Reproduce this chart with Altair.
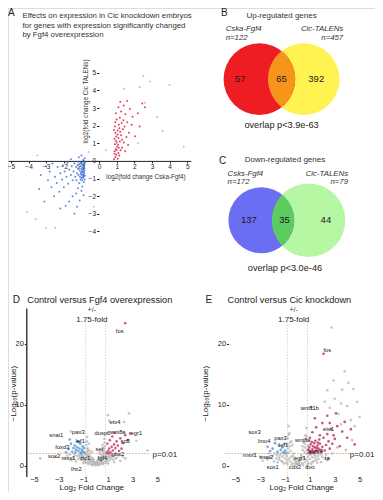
import altair as alt
import pandas as pd

FONT = "Liberation Sans"

# ---------------- data ----------------
# Panel A: log2 fold change (Fgf4 overexpression) vs log2 fold change (Cic TALENs)
a_up = [(0.85,0.10),(0.92,0.22),(0.98,0.35),(1.05,0.12),(1.10,0.45),(0.88,0.55),(0.95,0.68),(1.02,0.80),(1.15,0.30),(1.22,0.60),
        (0.90,0.95),(1.00,1.05),(1.08,0.92),(1.18,1.10),(1.30,0.75),(0.87,1.25),(0.97,1.38),(1.10,1.30),(1.25,1.45),(1.40,1.05),
        (0.93,1.60),(1.05,1.72),(1.20,1.65),(1.35,1.80),(1.55,1.35),(0.90,1.95),(1.12,2.05),(1.28,2.15),(1.45,1.95),(1.70,1.60),
        (1.00,2.35),(1.18,2.45),(1.38,2.30),(1.60,2.20),(1.85,2.05),(0.95,2.70),(1.25,2.80),(1.50,2.65),(1.90,2.50),(1.10,3.05),
        (1.40,3.15),(1.75,2.95),(2.20,2.70),(1.20,3.35),(1.60,3.40),(2.45,3.25),(2.60,3.05),(0.88,0.40),(1.00,0.60),(1.12,0.75),
        (0.95,1.15),(1.05,1.50),(1.15,1.85),(0.85,1.75),(1.30,1.20),(1.48,0.55),(2.05,1.40),(2.30,1.95),(1.65,0.90),(0.92,2.20)]
a_down = [(-0.82,0.15),(-0.88,-0.05),(-0.95,-0.20),(-0.85,-0.35),(-0.92,-0.50),(-1.00,-0.10),(-1.05,-0.30),(-1.10,-0.55),(-0.84,-0.70),(-0.98,-0.80),
          (-1.15,-0.20),(-1.20,-0.45),(-1.25,-0.70),(-0.90,-0.95),(-1.05,-1.05),(-1.30,-0.35),(-1.35,-0.90),(-1.40,-0.15),(-0.86,-1.20),(-1.12,-1.25),
          (-1.45,-0.60),(-1.50,-1.10),(-1.55,-0.30),(-1.60,-0.80),(-0.95,-1.45),(-1.20,-1.55),(-1.70,-0.50),(-1.75,-1.30),(-1.80,-0.10),(-1.85,-0.90),
          (-1.00,-1.70),(-1.30,-1.85),(-1.95,-0.60),(-2.00,-1.50),(-2.05,-0.25),(-2.10,-1.05),(-0.88,-1.95),(-1.50,-2.00),(-2.20,-0.70),(-2.25,-1.75),
          (-2.35,-0.35),(-2.40,-1.25),(-1.10,-2.25),(-1.70,-2.30),(-2.50,-0.90),(-2.55,-2.00),(-2.65,-0.15),(-2.70,-1.50),(-1.25,-2.60),(-1.90,-2.55),
          (-2.80,-0.60),(-2.90,-1.10),(-3.00,-0.30),(-3.10,-2.30),(-2.20,-2.70),(-1.40,-3.00),(-3.30,-0.80),(-3.40,-1.60),(-0.92,-0.25),(-0.83,-0.55),
          (-1.02,-0.65),(-0.87,-0.85),(-1.08,-0.90),(-0.96,-1.10),(-1.18,-0.05),(-1.28,-1.10),(-0.90,0.05),(-1.00,0.30),(-1.15,0.20),(-1.60,0.10),
          (-0.81,-0.10),(-0.83,-0.25),(-0.85,-0.45),(-0.87,-0.62),(-0.89,-0.78),(-0.91,-0.92),(-0.82,-1.05),(-0.84,-0.15),(-0.93,-0.38),(-0.97,-0.58),
          (-1.01,-0.45),(-1.04,-0.75),(-0.99,-0.95),(-1.07,-0.15),(-1.13,-0.40),(-1.17,-0.80),(-0.86,0.00),(-0.94,-0.68),(-0.81,-0.85),(-1.22,-0.25)]
a_other = [(2.5,4.8),(2.9,4.5),(4.0,4.3),(1.4,4.1),(2.3,4.2),(3.3,2.5),(2.6,3.3),(4.8,0.8),(-3.5,0.3),(-3.0,-3.8),
           (-2.5,-3.8),(-4.1,-2.9),(-3.6,-3.3),(0.4,0.6),(-0.6,0.5),(2.2,1.0),(3.6,1.7),(-0.3,-2.6)]
a_xticks = [-5, -4, -3, -2, -1, 0, 1, 2, 3, 4, 5]
a_yticks = [-4, -3, -2, -1, 0, 1, 2, 3, 4, 5]

# Panel B / C: Venn counts
venn_up_sets = ["Cska-Fgf4", "Cic-TALENs"]
venn_up_n = [122, 457]
venn_up_counts = [57, 65, 392]
venn_down_sets = ["Csks-Fgf4", "Cic-TALENs"]
venn_down_n = [172, 79]
venn_down_counts = [137, 35, 44]

# Panel D: volcano, control vs Fgf4 overexpression (log2 FC, -log10 p)
d_ns = [(0.0,0.05),(0.1,0.15),(-0.1,0.2),(0.2,0.3),(-0.2,0.35),(0.3,0.5),(-0.3,0.55),(0.4,0.7),(-0.4,0.75),(0.5,0.9),
        (-0.5,0.95),(0.6,1.1),(-0.6,1.15),(0.7,1.3),(-0.7,1.35),(0.75,1.6),(-0.75,1.65),(0.35,0.2),(-0.35,0.15),(0.55,0.35),
        (-0.55,0.4),(0.65,0.6),(-0.65,0.65),(0.8,0.8),(-0.8,0.85),(0.9,1.0),(-0.9,1.05),(1.0,1.2),(-1.0,1.3),(1.1,1.45),
        (-1.1,1.5),(1.2,1.7),(-1.2,1.75),(1.3,1.9),(-1.3,1.95),(0.85,1.8),(-0.85,1.9),(0.45,1.4),(-0.45,1.45),(0.6,1.75),
        (-0.6,1.8),(0.7,2.1),(-0.7,2.2),(0.5,2.4),(-0.5,2.5),(0.65,2.8),(-0.65,2.9),(0.75,3.2),(-0.75,3.4),(0.2,0.9),
        (-0.2,1.0),(0.1,0.6),(-0.1,0.65),(1.4,1.0),(-1.4,1.1),(1.5,0.6),(-1.6,0.7),(1.7,1.3),(-1.8,1.4),(-2.0,0.9),
        (2.0,0.8),(-2.3,1.6),(2.2,1.5),(-1.5,1.6),(1.6,1.85),(0.3,1.2),(-0.3,1.3),(0.72,3.8),(-0.72,4.0),(2.3,7.2),
        (1.1,7.4),(2.7,8.6),(-2.0,5.6),(3.3,4.1),(-3.3,1.4),(-4.5,1.2),(4.2,2.5),(1.0,8.3),
        (0.05,0.3),(-0.05,0.45),(0.15,0.75),(-0.15,0.8),(0.25,1.05),(-0.25,1.1),(0.35,1.0),(-0.35,1.05),(0.45,0.55),(-0.45,0.6),
        (0.55,1.55),(-0.55,1.6),(0.62,2.3),(-0.62,2.4),(0.68,2.6),(-0.68,2.7),(0.4,1.9),(-0.4,2.0),(0.3,2.2),(-0.3,2.3),
        (0.95,0.7),(-0.95,0.75),(1.05,1.6),(-1.05,1.65),(1.15,0.9),(-1.15,0.95),(1.25,1.25),(-1.25,1.3),(1.35,1.55),(-1.35,1.6),
        (0.25,0.1),(-0.25,0.1),(0.6,0.25),(-0.6,0.3),(0.8,0.45),(-0.8,0.5),(1.0,0.35),(-1.0,0.4),(1.6,1.2),(-1.7,1.8),
        (-1.9,1.1),(-2.1,1.9),(-2.5,1.2),(1.9,1.7),(2.4,1.2),(0.55,3.4),(-0.55,3.6),(0.7,4.4),(-0.7,4.7)]
d_down = [(-0.9,2.1),(-1.0,2.3),(-1.1,2.6),(-1.2,2.2),(-1.3,2.8),(-1.4,2.4),(-1.5,3.0),(-1.6,2.6),(-1.7,3.3),(-1.8,2.9),
          (-1.9,2.3),(-2.0,3.6),(-2.2,2.7),(-1.05,3.2),(-1.25,3.6),(-1.45,4.0),(-0.95,2.9),(-1.15,2.05),(-1.65,2.15),(-2.1,4.3),
          (-2.4,2.2),(-1.35,3.9)]
d_up = [(0.9,2.1),(1.0,2.4),(1.1,2.8),(1.2,2.2),(1.3,3.1),(1.4,2.5),(1.5,3.5),(1.6,2.9),(1.7,4.0),(1.8,3.3),
        (1.9,2.4),(2.0,4.5),(2.2,3.7),(2.4,5.0),(2.6,4.2),(2.8,5.3),(0.95,3.6),(1.15,4.2),(1.35,4.8),(1.55,5.4),
        (1.05,2.0),(2.1,2.8),(2.4,23.4)]
d_genes = ["fos", "etv4", "dusp6", "wnt8a", "egr1", "sp5", "pax3", "snai1", "foxd3", "lef1", "sox2", "msx1",
           "zic1", "lhx2", "fgf4", "sef", "gbx2"]
d_gene_x = [1.95, 1.56, 0.55, 1.8, 3.3, 2.4, -1.4, -3.2, -2.7, -1.25, -3.36, -2.2, -0.86, -1.56, 0.55, 0.3, 1.8]
d_gene_y = [22.2, 7.2, 5.4, 5.6, 5.3, 4.0, 5.6, 5.0, 3.0, 4.0, 1.6, 1.3, 1.3, -0.6, 1.3, 2.7, 1.9]

# Panel E: volcano, control vs Cic knockdown
e_ns = [(0.0,0.1),(0.2,0.2),(-0.2,0.25),(0.4,0.4),(-0.4,0.45),(0.6,0.6),(-0.6,0.7),(0.8,0.85),(-0.8,0.95),(1.0,1.1),
        (-1.0,1.2),(1.2,1.4),(-1.2,1.5),(1.4,1.7),(-1.4,1.8),(1.6,2.0),(-1.6,2.1),(0.3,0.9),(-0.3,1.0),(0.5,1.4),
        (-0.5,1.5),(0.7,2.0),(-0.7,2.1),(0.75,2.6),(-0.75,2.8),(0.8,3.3),(-0.8,3.5),(0.78,4.2),(-0.78,4.5),(0.1,0.5),
        (-0.1,0.6),(0.9,0.4),(-0.9,0.5),(1.3,0.7),(-1.3,0.8),(1.7,1.1),(-1.7,1.2),(2.0,1.5),(-2.0,1.6),(2.3,1.8),
        (-2.3,2.0),(1.9,0.6),(-1.9,0.7),(2.5,1.2),(-2.6,1.3),(0.6,3.0),(-0.6,3.2),(0.5,3.8),(-0.5,4.0),(0.65,5.0),
        (-0.65,5.3),(0.72,6.2),(-0.72,6.5),(1.1,0.3),(-1.1,0.35),(0.45,0.1),(-0.45,0.15),(1.5,0.9),(-1.5,1.0),(2.8,2.0),
        (2.6,9.5),(3.0,11.0),(3.6,12.5),(4.5,12.6),(3.3,8.5),(4.0,9.8),(4.8,10.5),(2.9,14.0),(3.8,15.5),(4.3,7.5),
        (5.0,8.0),(2.75,22.7),(4.6,6.5),(3.5,6.8),(-3.0,1.5),(-3.5,1.9),(-2.8,0.8),(0.3,1.8),(-0.3,2.0),(0.4,2.6),
        (0.05,0.3),(-0.05,0.35),(0.15,0.7),(-0.15,0.75),(0.25,1.2),(-0.25,1.3),(0.35,1.5),(-0.35,1.6),(0.55,2.3),(-0.55,2.4),
        (0.65,1.1),(-0.65,1.2),(0.85,1.5),(-0.85,1.6),(1.05,1.8),(-1.05,1.9),(1.25,2.0),(-1.25,2.1),(1.45,1.3),(-1.45,1.4),
        (1.65,1.6),(-1.65,1.7),(1.85,1.9),(-1.85,2.0),(2.2,1.2),(-2.2,1.3),(2.4,0.9),(-2.4,1.0),(0.7,4.8),(-0.7,5.1),
        (0.6,3.6),(-0.6,3.8),(0.4,3.2),(-0.4,3.4),(1.2,0.6),(-1.2,0.65),(0.8,0.2),(-0.8,0.25),(1.6,0.5),(-1.6,0.55),
        (3.2,3.0),(3.9,2.6),(4.4,4.2),(2.2,10.5),(3.5,10.2),(4.1,13.6),(2.4,12.4)]
e_up = [(0.9,2.1),(1.0,2.4),(1.1,2.2),(1.2,2.7),(1.3,2.3),(1.4,3.0),(1.5,2.5),(1.6,3.3),(1.7,2.8),(1.8,3.6),
        (1.9,2.2),(2.0,3.1),(0.95,3.0),(1.05,3.5),(1.15,3.9),(1.25,3.2),(1.35,3.7),(1.45,4.1),(1.55,2.9),(1.65,3.8),
        (1.75,4.3),(1.85,2.6),(2.1,4.6),(2.2,2.5),(2.3,3.4),(2.4,5.2),(2.5,4.0),(2.6,2.8),(2.7,6.0),(2.8,3.6),
        (2.9,5.0),(3.0,4.4),(3.2,6.5),(3.4,3.2),(3.6,5.6),(3.8,7.2),(4.0,4.6),(4.3,6.0),(4.6,3.5),(1.0,4.6),
        (1.2,5.5),(1.5,6.3),(1.8,5.0),(2.0,7.0),(2.4,8.2),(2.6,7.0),(3.1,8.6),(1.4,7.8),(2.1,18.4),(1.1,9.6),
        (0.88,2.6),(1.02,2.05),(1.38,2.1),(1.62,2.35)]
e_down = [(-0.9,2.1),(-1.0,2.5),(-1.1,2.2),(-1.2,3.0),(-1.35,2.6),(-1.5,3.3),(-1.6,2.3),(-1.8,3.7),(-2.0,2.8),(-2.2,2.4),
          (-1.05,3.6),(-2.4,3.1)]
e_genes = ["fos", "wnt11b", "etv1", "wnt8a", "spry4", "sox3", "lmo4", "pax3", "lef1", "msx1", "snai2", "sox1",
           "cdx2", "tbxt", "egr1", "ta"]
e_gene_x = [2.4, 1.0, 2.5, 0.43, 1.5, -3.45, -2.67, -1.36, -1.12, -3.84, -2.5, -2.0, -0.2, 1.0, 0.2, 2.4]
e_gene_y = [19.0, 9.4, 6.1, 4.3, 2.4, 5.6, 4.0, 4.6, 3.4, 1.8, 1.4, -0.2, -0.2, -0.2, 1.3, 1.3]

vol_xticks = [-5, -3, -1, 1, 3, 5]
vol_yticks = [0, 10, 20]
fold_cut = 0.807   # log2(1.75)
p_cut = 2.0        # -log10(0.01)

# ---------------- layout helpers (reference pixel -> chart pixel) ----------------
W, H = 367, 484
SX, SY = W / 381.0, H / 497.0
S = (SX + SY) / 2


def px(x):
    return (x - 2) * SX


def py(y):
    return (y - 2) * SY


def lin(d0, d1, r0, r1):
    return alt.Scale(domain=[d0, d1], range=[r0, r1], nice=False, zero=False)


def text(s, x, y, size=8, align="left", baseline="middle", angle=0, color="#222",
         style="normal", weight="normal"):
    return alt.Chart(pd.DataFrame({"t": [s]})).mark_text(
        align=align, baseline=baseline, fontSize=size, angle=angle, color=color,
        fontStyle=style, fontWeight=weight, font=FONT
    ).encode(x=alt.value(px(x)), y=alt.value(py(y)), text="t:N")


def scatter(pairs, xs, ys, color, size, opacity=1.0, xaxis=None, yaxis=None):
    df = pd.DataFrame(pairs, columns=["x", "y"])
    return alt.Chart(df).mark_circle(size=size, color=color, opacity=opacity).encode(
        x=alt.X("x:Q", scale=xs, axis=xaxis), y=alt.Y("y:Q", scale=ys, axis=yaxis))


ax = dict(labelFont=FONT, labelColor="#222", grid=False, title=None, labelFlush=False,
          labelOverlap=False, tickColor="#222", domainColor="#222")

layers = []

# ---------------- Panel A ----------------
A_X = lin(-5.15, 5.2, px(2.3), px(191.7))
A_Y = lin(-4.3, 5.3, py(236.8), py(63.1))
a_xaxis = alt.Axis(orient="bottom", offset=py(159) - H, values=a_xticks, tickSize=2,
                   labelFontSize=6.5, labelPadding=1, domainWidth=1, **ax)
a_yaxis = alt.Axis(orient="left", offset=-px(96.5), values=a_yticks, domain=False, tickSize=2.5,
                   labelFontSize=6.5, labelPadding=1, **ax)
layers.append(scatter(a_other, A_X, A_Y, "#b8b8c4", 4, 0.9, a_xaxis, a_yaxis))
layers.append(scatter(a_down, A_X, A_Y, "#2a63d4", 4, 0.75))
layers.append(scatter(a_up, A_X, A_Y, "#d8244c", 4, 0.85))
layers += [
    text("A", 2, 2.5, size=10, baseline="top"),
    text("Effects on expression in Cic knockdown embryos", 17, 10, size=7.8, color="#333"),
    text("for genes with expression significantly changed", 17, 20, size=7.8, color="#333"),
    text("by Fgf4 overexpression", 17, 29.5, size=7.8, color="#333"),
    text("log2(fold change Cic TALENs)", 83, 98, size=6.3, align="center", angle=270, color="#333"),
    text("log2(fold change Cska-Fgf4)", 104, 176, size=6.3, color="#333"),
]

# ---------------- Venn helper ----------------
def lens_path(r1, r2, d):
    x0 = (d * d + r1 * r1 - r2 * r2) / (2 * d)
    h = (r1 * r1 - x0 * x0) ** 0.5
    a, b = r1 / h, r2 / h
    return (f"M0,-1A{a:.4f},{a:.4f} 0 0,1 0,1A{b:.4f},{b:.4f} 0 0,1 0,-1Z", x0, h)


def venn(sets, ns, counts, cx0, cy, r1, r2, d, colors, title, ttl_y, name_y, ov_text, ov_y,
         count_dx, letter, letter_xy):
    vx = lin(0, 1, px(cx0), px(cx0 + d))
    vy = lin(0, 1, py(cy), py(cy - d))
    circ = pd.DataFrame({"set": sets, "n": ns, "pos": [0.0, 1.0], "row": [0.0, 0.0]})
    out = []
    out.append(alt.Chart(circ.iloc[[1]]).mark_point(shape="circle", filled=True, opacity=1,
                                                    size=(2 * r2 * S) ** 2, color=colors[1], strokeWidth=0)
               .encode(x=alt.X("pos:Q", scale=vx, axis=None), y=alt.Y("row:Q", scale=vy, axis=None)))
    out.append(alt.Chart(circ.iloc[[0]]).mark_point(shape="circle", filled=True, opacity=1,
                                                    size=(2 * r1 * S) ** 2, color=colors[0], strokeWidth=0)
               .encode(x=alt.X("pos:Q", scale=vx, axis=None), y=alt.Y("row:Q", scale=vy, axis=None)))
    path, x0, h = lens_path(r1, r2, d)
    lens = pd.DataFrame({"pos": [x0 / d], "row": [0.0]})
    out.append(alt.Chart(lens).mark_point(shape=path, filled=True, opacity=1,
                                          size=(2 * h * S) ** 2, color=colors[2], strokeWidth=0)
               .encode(x=alt.X("pos:Q", scale=vx, axis=None), y=alt.Y("row:Q", scale=vy, axis=None)))
    cnt = pd.DataFrame({"c": [str(c) for c in counts],
                        "pos": [count_dx[0] / d, count_dx[1] / d, count_dx[2] / d], "row": [0.0] * 3})
    out.append(alt.Chart(cnt).mark_text(fontSize=9.5, font=FONT, color="#1a1a1a")
               .encode(x=alt.X("pos:Q", scale=vx, axis=None), y=alt.Y("row:Q", scale=vy, axis=None),
                       text="c:N"))
    out += [
        text(letter, letter_xy[0], letter_xy[1], size=10, baseline="top"),
        text(title, cx0 + d / 2, ttl_y, size=8, align="center", color="#333"),
        text(sets[0], cx0 - 35, name_y, size=7.8, style="italic", color="#333"),
        text(f"n={ns[0]}", cx0 - 35, name_y + 9, size=7.8, style="italic", color="#333"),
        text(sets[1], cx0 + d + 41, name_y, size=7.8, align="right", style="italic", color="#333"),
        text(f"n={ns[1]}", cx0 + d + 41, name_y + 9, size=7.8, align="right", style="italic", color="#333"),
        text(ov_text, cx0 + d / 2, ov_y, size=9.2, align="center", color="#222"),
    ]
    return out


layers += venn(venn_up_sets, venn_up_n, venn_up_counts, 263, 75, 37, 37, 46,
               ["#ee1d23", "#fff352", "#f7941d"], "Up-regulated genes", 10, 24,
               "overlap p<3.9e-63", 122, [-20, 23, 59], "B", (223, 2.5))
layers += venn(venn_down_sets, venn_down_n, venn_down_counts, 265, 220, 34, 38, 49,
               ["#6b6df2", "#b6f7a4", "#5ccb60"], "Down-regulated genes", 158, 172,
               "overlap p<3.0e-46", 269, [-13, 24, 67], "C", (221, 154))

# ---------------- Volcano helper ----------------
def volcano(ns, down, up, genes, gx, gy, zero_x, unit_x, axis_x, domain_line, hline_from, hline_to,
            letter, letter_x, title, title_x, ytitle_x, xtitle_x, pcol, p_x, p_align):
    vx = lin(-5, 5, px(zero_x - 5 * unit_x), px(zero_x + 5 * unit_x))
    vy = lin(-1.76, 25.92, py(483), py(310))
    xaxis = alt.Axis(orient="bottom", offset=py(481.5) - H, values=vol_xticks, domain=False, ticks=False,
                     labelFontSize=7.5, labelPadding=0.5, **ax)
    yaxis = alt.Axis(orient="left", offset=-px(axis_x), values=vol_yticks, domain=domain_line,
                     domainWidth=1.3, tickSize=2, labelFontSize=7.5, labelPadding=1, **ax)
    out = []
    # threshold lines
    vl = pd.DataFrame({"x": [-fold_cut, fold_cut], "y1": [-1.7, -1.7], "y2": [23.6, 23.6]})
    out.append(alt.Chart(vl).mark_rule(color="#e2c9a0", strokeWidth=0.8, strokeDash=[1.5, 1.5])
               .encode(x=alt.X("x:Q", scale=vx, axis=None), y=alt.Y("y1:Q", scale=vy, axis=None), y2="y2:Q"))
    hl = pd.DataFrame({"x1": [hline_from], "x2": [hline_to], "y": [p_cut]})
    out.append(alt.Chart(hl).mark_rule(color="#d9a46c", strokeWidth=0.9, strokeDash=[1.5, 1.5])
               .encode(x=alt.X("x1:Q", scale=vx, axis=None), x2="x2:Q", y=alt.Y("y:Q", scale=vy, axis=None)))
    out.append(scatter(ns, vx, vy, "#b4b4b4", 7, 0.75, xaxis, yaxis))
    out.append(scatter(down, vx, vy, "#5b9bd8", 7, 0.85))
    out.append(scatter(up, vx, vy, pcol, 7, 0.8))
    gdf = pd.DataFrame({"g": genes, "x": gx, "y": gy})
    out.append(alt.Chart(gdf).mark_text(fontSize=5.8, font=FONT, color="#111")
               .encode(x=alt.X("x:Q", scale=vx, axis=None), y=alt.Y("y:Q", scale=vy, axis=None), text="g:N"))
    cx = zero_x - 4
    out += [
        text(letter, letter_x, 302, size=10),
        text(title, title_x, 302, size=9.2, color="#222"),
        text("+/-", cx, 312, size=7, align="center", color="#333"),
        text("1.75-fold", cx, 322, size=8, align="center", color="#222"),
        text("p=0.01", p_x, 461, size=8, align=p_align, color="#222"),
        text("\u2212Log\u2081\u2080(p-value)", ytitle_x, 398, size=8, align="center", angle=270, color="#222"),
        text("Log\u2082 Fold Change", xtitle_x, 495, size=8, align="center", color="#222"),
    ]
    return out


layers += volcano(d_ns, d_down, d_up, d_genes, d_gene_x, d_gene_y, 93, 12.8, 21, True, -5.55, 4.45,
                  "D", 7, "Control versus Fgf4 overexpression", 22, 8, 89, "#c8325e", 152, "left")
layers += volcano(e_ns, e_down, e_up, e_genes, e_gene_x, e_gene_y, 302.5, 12.9, 231, False, -5.8, 4.6,
                  "E", 207, "Control versus Cic knockdown", 230, 208, 307, "#b82a5c", 382.5, "right")

chart = alt.layer(*layers).resolve_scale(x="independent", y="independent").properties(
    width=W, height=H, padding=0, autosize=alt.AutoSizeParams(type="none")
).configure_view(stroke=None).configure(font=FONT)

chart.save("out.html", embed_options={"renderer": "svg", "actions": False})
